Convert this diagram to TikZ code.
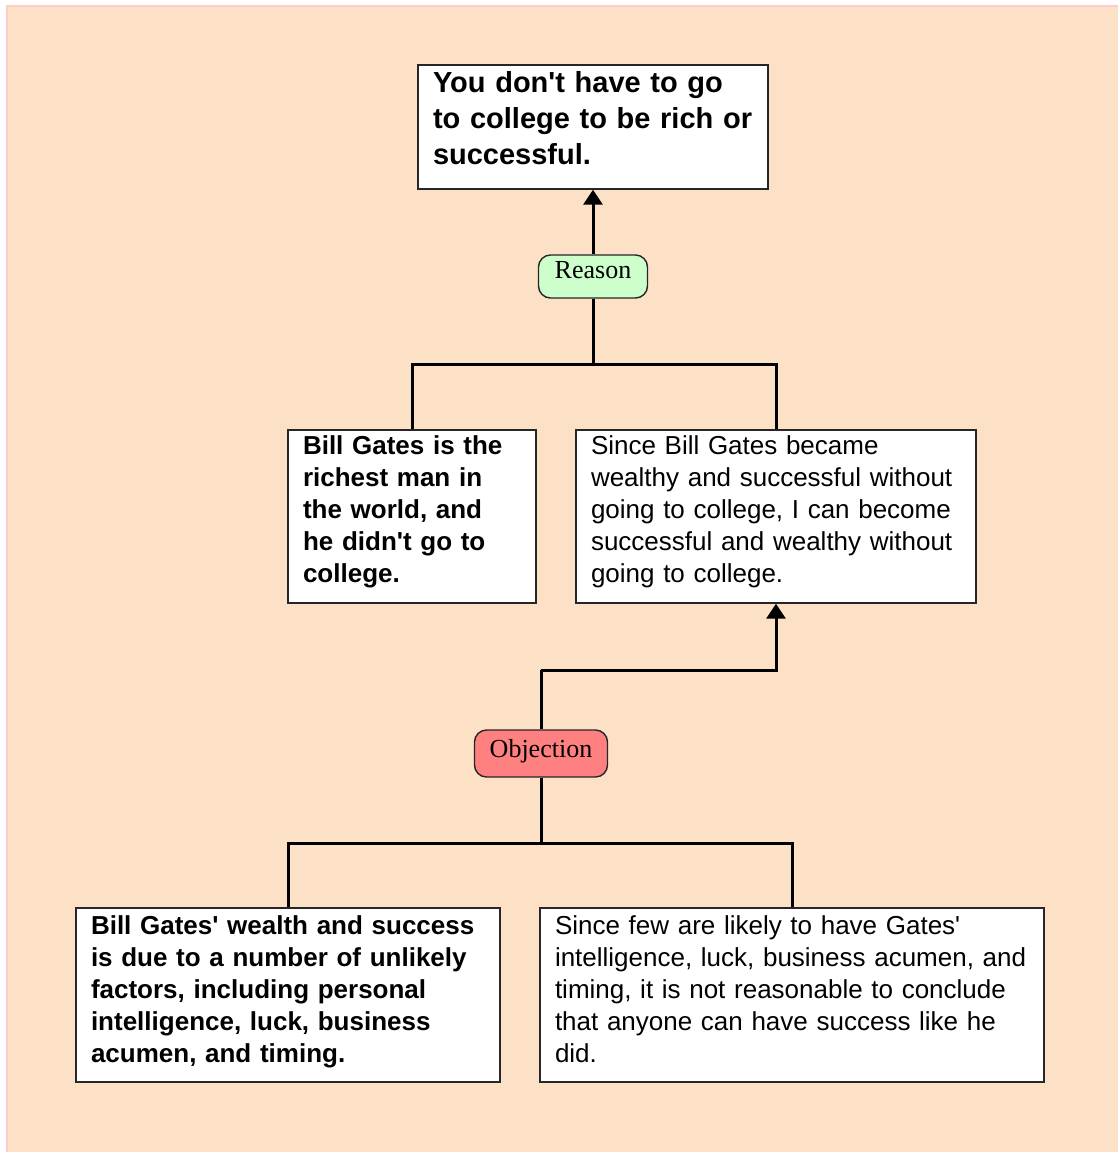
\documentclass[tikz,border=0pt]{standalone}
\usepackage{fontspec}
\setmainfont{Liberation Serif}
\setsansfont{Liberation Sans}
\usetikzlibrary{arrows.meta, positioning, calc}

\definecolor{paper}{RGB}{252,225,199}
\definecolor{reasongreen}{RGB}{204,255,204}
\definecolor{objectred}{RGB}{255,128,128}
\newcommand{\apos}{\textquotesingle}

\begin{document}
\begin{tikzpicture}[x=1pt, y=-1pt, >={Triangle[width=19pt,length=15pt]}, line width=3pt,
    box/.style={draw=black!85, line width=1.4pt, fill=white, inner xsep=15pt, inner ysep=0pt,
        align=left, font=\sffamily\fontsize{26}{32}\selectfont},
    boldbox/.style={box, font=\sffamily\bfseries\fontsize{26}{32}\selectfont},
    tag/.style={draw=black!85, line width=1.4pt, rounded corners=12pt, inner sep=0pt,
        font=\rmfamily\fontsize{26}{26}\selectfont}]
    % Background
    \useasboundingbox (0,0) rectangle (1118,1152);
    \fill[white] (0,0) rectangle (1118,1152);
    \fill[paper] (7,6) rectangle (1118,1152);
    \draw[red!20, line width=1.5pt] (7,1152) -- (7,6) -- (1118,6);

    % Nodes
    \node[boldbox, text width=320pt, text height=27pt, text depth=97pt,
        font=\sffamily\bfseries\fontsize{29}{36}\selectfont] (claim) at (593,127)
        {You don\apos t have to go\\to college to be rich or\\successful.};
    \node[tag, fill=reasongreen, minimum width=109pt, text height=23pt, text depth=20pt] (reason) at (593,276.5) {Reason};
    \node[boldbox, text width=218pt, text height=24pt, text depth=149pt] (bill) at (412,516.5)
        {Bill Gates is the\\richest man in\\the world, and\\he didn\apos t go to\\college.};
    \node[box, text width=370pt, text height=24pt, text depth=149pt] (since) at (776,516.5)
        {Since Bill Gates became\\wealthy and successful without\\going to college, I can become\\successful and wealthy without\\going to college.};
    \node[tag, fill=objectred, minimum width=133pt, text height=27pt, text depth=20pt] (objection) at (541,753.5) {Objection};
    \node[boldbox, text width=394pt, text height=26pt, text depth=148pt] (wealth) at (288,995)
        {Bill Gates\apos{} wealth and success\\is due to a number of unlikely\\factors, including personal\\intelligence, luck, business\\acumen, and timing.};
    \node[box, text width=474pt, text height=26pt, text depth=148pt] (few) at (792,995)
        {Since few are likely to have Gates\apos\\intelligence, luck, business acumen, and\\timing, it is not reasonable to conclude\\that anyone can have success like he\\did.};

    % Joints
    \coordinate (fork1) at (593,364);
    \coordinate (bend) at (541,670);
    \coordinate (fork2) at (541,843);

    % Reason links
    \draw[->] (reason) -- (claim);
    \draw (reason) -- (fork1);
    \draw (fork1) -| (bill);
    \draw (fork1) -| (since);

    % Objection links
    \draw (objection) -- (bend);
    \draw[->] (bend) -| (since);
    \draw (objection) -- (fork2);
    \draw (fork2) -| (wealth);
    \draw (fork2) -| (few);
\end{tikzpicture}
\end{document}
